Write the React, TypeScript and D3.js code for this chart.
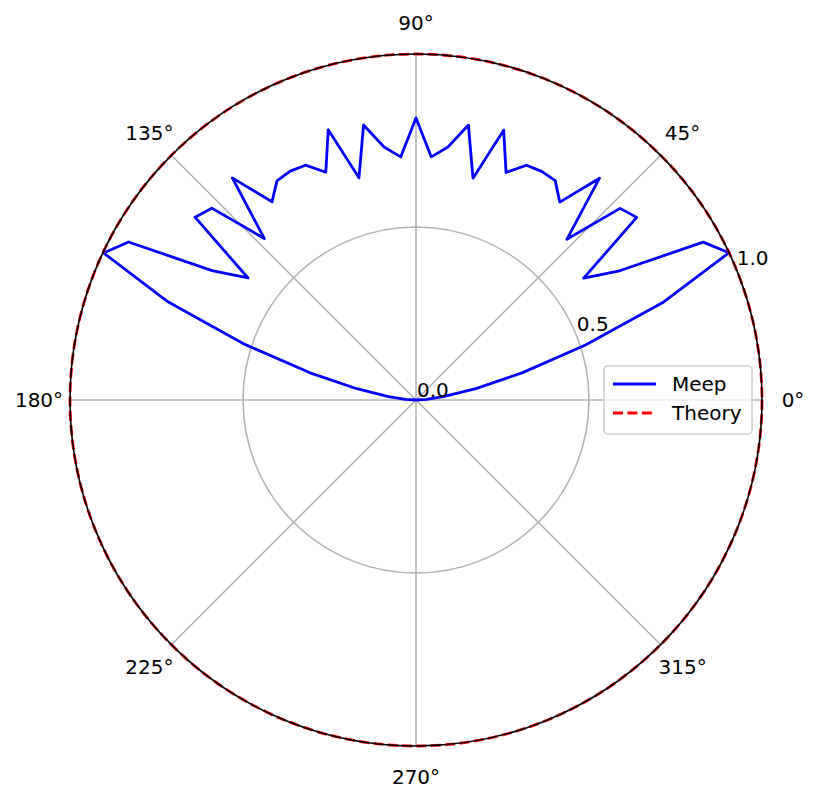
import { useEffect, useRef } from "react";
import * as d3 from "d3";

// sample angles (degrees) of the Meep far-field curve
const meepAngles = [
  0, 3.6, 7.2, 10.8, 14.4, 18, 21.6, 25.2, 28.8, 32.4, 36, 39.6, 43.2, 46.8, 50.4,
  54, 57.6, 61.2, 64.8, 68.4, 72, 75.6, 79.2, 82.8, 86.4, 90, 93.6, 97.2, 100.8,
  104.4, 108, 111.6, 115.2, 118.8, 122.4, 126, 129.6, 133.2, 136.8, 140.4, 144,
  147.6, 151.2, 154.8, 158.4, 162, 165.6, 169.2, 172.8, 176.4, 180,
];

const meepValues = [
  0.0, 0.03, 0.08, 0.176, 0.318, 0.515, 0.77, 1.0, 0.947, 0.697, 0.599, 0.828,
  0.809, 0.637, 0.832, 0.707, 0.751, 0.754, 0.75, 0.707, 0.82, 0.662, 0.809,
  0.737, 0.704, 0.815, 0.704, 0.737, 0.809, 0.663, 0.821, 0.708, 0.75, 0.755,
  0.75, 0.708, 0.833, 0.64, 0.81, 0.829, 0.6, 0.698, 0.948, 0.998, 0.771, 0.52,
  0.316, 0.174, 0.08, 0.03, 0.0,
];

const theoryValue = 1.0;

const angleTicks = [0, 45, 90, 135, 180, 225, 270, 315];
const radialTicks = [0.0, 0.5, 1.0];
const legendLabels = ["Meep", "Theory"];

const PolarChart = ({ width = 818, height = 801 }) => {
  const svgRef = useRef<SVGSVGElement>(null);

  useEffect(() => {
    const svg = d3.select(svgRef.current);
    svg.selectAll("*").remove();

    const cx = 416;
    const cy = 400;
    const R = 346;
    const font = "DejaVu Sans, sans-serif";
    const fs = 20;

    const r = d3.scaleLinear().domain([0, 1]).range([0, R]);
    const toRad = (deg: number) => (deg * Math.PI) / 180;
    // d3 radial angle is clockwise from 12 o'clock
    const radial = (deg: number) => Math.PI / 2 - toRad(deg);

    const g = svg.append("g").attr("transform", `translate(${cx} ${cy})`);

    // grid: radial spokes
    g.selectAll(".spoke")
      .data(angleTicks)
      .enter()
      .append("line")
      .attr("x1", 0)
      .attr("y1", 0)
      .attr("x2", (d) => r(1) * Math.cos(toRad(d)))
      .attr("y2", (d) => -r(1) * Math.sin(toRad(d)))
      .attr("stroke", "#b0b0b0")
      .attr("stroke-width", 1.5);

    // grid: circles
    g.selectAll(".ring")
      .data(radialTicks.filter((d) => d > 0 && d < 1))
      .enter()
      .append("circle")
      .attr("r", (d) => r(d))
      .attr("fill", "none")
      .attr("stroke", "#b0b0b0")
      .attr("stroke-width", 1.5);

    // Meep curve
    const line = d3
      .lineRadial<number>()
      .angle((_, i) => radial(meepAngles[i]))
      .radius((d) => r(d));

    g.append("path")
      .datum(meepValues)
      .attr("fill", "none")
      .attr("stroke", "blue")
      .attr("stroke-width", 2.8)
      .attr("stroke-linejoin", "round")
      .attr("d", line);

    // Theory curve (constant)
    g.append("circle")
      .attr("r", r(theoryValue))
      .attr("fill", "none")
      .attr("stroke", "red")
      .attr("stroke-width", 2.8)
      .attr("stroke-dasharray", "10 4.4");

    // outer spine
    g.append("circle")
      .attr("r", r(1))
      .attr("fill", "none")
      .attr("stroke", "black")
      .attr("stroke-width", 1.6);

    // angle labels
    g.selectAll(".alabel")
      .data(angleTicks)
      .enter()
      .append("text")
      .attr("x", (d) => (R + 31) * Math.cos(toRad(d)))
      .attr("y", (d) => -(R + 31) * Math.sin(toRad(d)))
      .attr("text-anchor", "middle")
      .attr("dominant-baseline", "central")
      .attr("font-family", font)
      .attr("font-size", fs)
      .text((d) => `${d}°`);

    // radial labels along 22.5°
    const ra = toRad(22.5);
    g.selectAll(".rlabel")
      .data(radialTicks)
      .enter()
      .append("text")
      .attr("x", (d) => r(d) * Math.cos(ra) + 1)
      .attr("y", (d) => -r(d) * Math.sin(ra) - 3)
      .attr("font-family", font)
      .attr("font-size", fs)
      .text((d) => d.toFixed(1));

    // legend
    const lg = svg.append("g").attr("transform", "translate(604 366)");
    lg.append("rect")
      .attr("x", 0)
      .attr("y", 0)
      .attr("width", 148)
      .attr("height", 68)
      .attr("rx", 4)
      .attr("fill", "white")
      .attr("fill-opacity", 0.8)
      .attr("stroke", "#cccccc")
      .attr("stroke-width", 1.5);

    const items = lg
      .selectAll(".item")
      .data(legendLabels)
      .enter()
      .append("g")
      .attr("transform", (_, i) => `translate(0 ${18 + i * 29})`);

    items
      .append("line")
      .attr("x1", 9)
      .attr("x2", 52)
      .attr("y1", 0)
      .attr("y2", 0)
      .attr("stroke", (_, i) => (i === 0 ? "blue" : "red"))
      .attr("stroke-width", 2.8)
      .attr("stroke-dasharray", (_, i) => (i === 0 ? null : "10 4.4"));

    items
      .append("text")
      .attr("x", 68)
      .attr("y", 7)
      .attr("font-family", font)
      .attr("font-size", fs)
      .text((d) => d);
  }, [width, height]);

  return (
    <svg
      ref={svgRef}
      width={width}
      height={height}
      style={{ position: "absolute", left: 0, top: 0, background: "white" }}
    />
  );
};

export default function App() {
  return <PolarChart />;
}
